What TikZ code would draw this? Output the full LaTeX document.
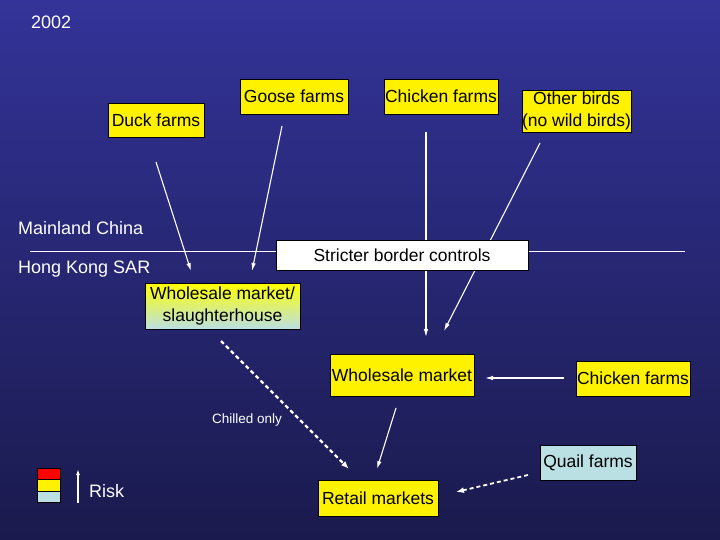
\documentclass[tikz,border=0pt]{standalone}
\usepackage{fontspec}
\setmainfont{Liberation Sans}
\usetikzlibrary{arrows.meta}
\definecolor{bgtop}{RGB}{51,51,153}
\definecolor{bgbot}{RGB}{26,26,77}
\definecolor{qblue}{RGB}{187,224,228}
\begin{document}
\begin{tikzpicture}[x=1pt,y=-1pt,
  box/.style={draw=black, line width=0.8pt, fill=yellow, text=black, inner sep=0pt,
    font=\fontsize{17.5}{22.5}\selectfont, align=center},
  lbl/.style={text=white, inner sep=0pt, font=\fontsize{18}{20}\selectfont},
  conn/.style={draw=white, line width=1.1pt, -{Latex[length=8pt,width=4.5pt]}},
  dconn/.style={draw=white, line width=2.2pt, dash pattern=on 4pt off 3pt, -{Latex[length=8pt,width=6pt]}}]
\useasboundingbox (0,0) rectangle (720,540);
\shade[top color=bgtop, bottom color=bgbot] (0,0) rectangle (720,540);
% border line
\coordinate (bl) at (30,251);
\coordinate (br) at (685,251);
\draw[white, line width=1pt] (bl) -- (br);
% connector end points
\coordinate (a1s) at (156,162); \coordinate (a1e) at (191,271);
\coordinate (a2s) at (282,126); \coordinate (a2e) at (252,271);
\coordinate (a3s) at (426,132); \coordinate (a3e) at (426,337);
\coordinate (a4s) at (540,143); \coordinate (a4e) at (444,331);
\coordinate (a5s) at (564,378); \coordinate (a5e) at (485,378);
\coordinate (a6s) at (396,408); \coordinate (a6e) at (377,469);
\coordinate (a7s) at (221,341); \coordinate (a7e) at (349,469);
\coordinate (a8s) at (528,475); \coordinate (a8e) at (456,492);
\coordinate (rs) at (78,503); \coordinate (re) at (78,469);
\draw[conn] (a1s) -- (a1e);
\draw[conn] (a2s) -- (a2e);
\draw[conn] (a3s) -- (a3e);
\draw[conn] (a4s) -- (a4e);
\draw[conn] (a5s) -- (a5e);
\draw[conn] (a6s) -- (a6e);
\draw[dconn] (a7s) -- (a7e);
\draw[dconn, line width=1.8pt] (a8s) -- (a8e);
\draw[white, line width=1.3pt, -{Latex[length=6pt,width=4pt]}] (rs) -- (re);
% nodes
\node[box, minimum width=96pt, minimum height=34pt] (duck) at (156,120) {Duck farms};
\node[box, minimum width=108pt, minimum height=35pt] (goose) at (294,96.5) {Goose farms};
\node[box, minimum width=114pt, minimum height=35pt] (chick1) at (441,96.5) {Chicken farms};
\node[box, minimum width=109pt, minimum height=42pt] (other) at (576.5,111) {Other birds\\(no wild birds)};
\node[box, fill=white, minimum width=252pt, minimum height=30pt] (border) at (402,255) {Stricter border controls};
\node[box, fill=none, top color=yellow, bottom color=qblue, minimum width=155pt, minimum height=46pt] (slaughter) at (222.5,306) {Wholesale market/\\slaughterhouse};
\node[box, minimum width=144pt, minimum height=42pt] (whole) at (402,375) {Wholesale market};
\node[box, minimum width=114pt, minimum height=35pt] (chick2) at (633,378.5) {Chicken farms};
\node[box, fill=qblue, minimum width=96pt, minimum height=35pt] (quail) at (588,462.5) {Quail farms};
\node[box, minimum width=120pt, minimum height=36pt] (retail) at (378,498) {Retail markets};
% labels
\node[lbl, anchor=west] (year) at (31,22) {2002};
\node[lbl, anchor=west] (mc) at (18,228) {Mainland China};
\node[lbl, anchor=west] (hk) at (18,269) {Hong Kong SAR};
\node[lbl, font=\fontsize{13.5}{15}\selectfont] (chilled) at (247,420) {Chilled only};
\node[lbl, anchor=west] (risk) at (89,491) {Risk};
% legend
\node[draw=black, line width=0.8pt, fill=red, minimum width=23pt, minimum height=11.5pt, inner sep=0pt] (lr) at (48.5,474) {};
\node[draw=black, line width=0.8pt, fill=yellow, minimum width=23pt, minimum height=11.5pt, inner sep=0pt] (ly) at (48.5,485.5) {};
\node[draw=black, line width=0.8pt, fill=qblue, minimum width=23pt, minimum height=11.5pt, inner sep=0pt] (lb) at (48.5,497) {};
\end{tikzpicture}
\end{document}
